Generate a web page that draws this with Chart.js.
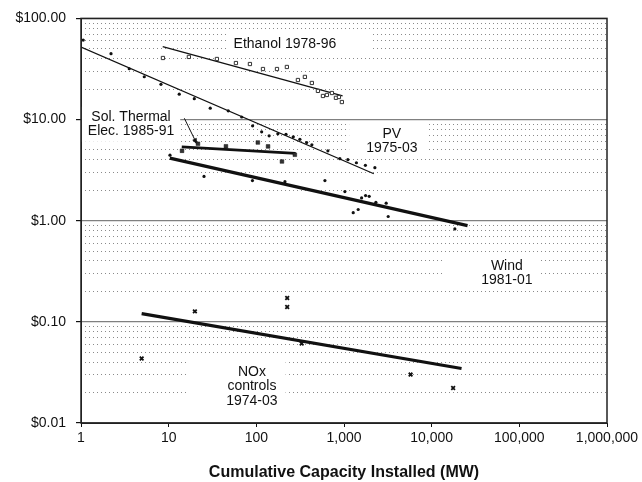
<!DOCTYPE html>
<html><head><meta charset="utf-8">
<script src="https://cdn.jsdelivr.net/npm/chart.js@4.4.0/dist/chart.umd.min.js"></script>
<style>html,body{margin:0;padding:0;background:#fff;}#wrap{width:642px;height:482px;}</style>
</head><body><div id="wrap"><canvas id="c" width="642" height="482"></canvas></div>
<script>
// ---- tick labels ----
const yTickValues = [0.01, 0.1, 1, 10, 100];
const yTickLabels = ['$0.01', '$0.10', '$1.00', '$10.00', '$100.00'];
const yMinorMultipliers = [2, 3, 4, 5, 6, 7, 8, 9];
const xTickValues = [1, 10, 100, 1000, 10000, 100000, 1000000];
const xTickLabels = ['1', '10', '100', '1,000', '10,000', '100,000', '1,000,000'];
const xTitle = 'Cumulative Capacity Installed (MW)';

// ---- series: Ethanol 1978-96 ----
const ethanolX = [8.6, 17.0, 35.5, 58.5, 84.5, 119, 172, 223, 298, 358, 430, 504, 575, 638, 728, 809, 875, 946];
const ethanolY = [40.6, 41.6, 39.7, 36.2, 35.4, 31.6, 31.6, 33.1, 24.6, 26.4, 23.0, 19.2, 17.1, 17.5, 18.3, 16.4, 16.7, 14.9];
const ethanolTrendX = [8.55, 964];
const ethanolTrendY = [52.5, 17.1];

// ---- series: PV 1975-03 ----
const pvX = [1.06, 2.2, 3.55, 5.27, 8.17, 13.2, 19.6, 29.8, 47.8, 68, 90.7, 115, 140, 176, 218, 264, 314, 375, 430, 655, 898, 1107, 1385, 1754, 2250];
const pvY = [61.1, 44.8, 31.8, 26.5, 22.3, 17.8, 16.1, 12.95, 12.2, 10.6, 8.67, 7.56, 6.91, 7.23, 7.15, 6.75, 6.38, 5.93, 5.63, 4.91, 4.10, 4.01, 3.74, 3.53, 3.34];
const pvTrendX = [1, 2190];
const pvTrendY = [52, 2.91];

// ---- series: Solar thermal electricity 1985-91 ----
const solarX = [14.2, 21.6, 45, 104, 136, 196, 275];
const solarY = [4.91, 5.76, 5.44, 5.93, 5.42, 3.85, 4.49];
const solarTrendX = [14.1, 281];
const solarTrendY = [5.38, 4.62];

// ---- series: Wind 1981-01 ----
const windX = [10.35, 25.3, 90.3, 212, 606, 1024, 1274, 1452, 1588, 1763, 1938, 2311, 3028, 3192, 18390];
const windY = [4.44, 2.74, 2.49, 2.43, 2.49, 1.94, 1.20, 1.29, 1.68, 1.77, 1.74, 1.52, 1.49, 1.10, 0.83];
const windTrendX = [10.3, 25650];
const windTrendY = [4.16, 0.895];

// ---- series: NOx controls 1974-03 ----
const noxX = [4.92, 19.9, 225, 225, 329, 5746, 17580];
const noxY = [0.0434, 0.127, 0.172, 0.140, 0.061, 0.0301, 0.0222];
const noxTrendX = [4.92, 21930];
const noxTrendY = [0.1205, 0.0346];

// ---- annotation texts (anchored in data units) ----
const annotationTexts = [
  ['Ethanol 1978-96'],
  ['PV', '1975-03'],
  ['Wind', '1981-01'],
  ['NOx', 'controls', '1974-03'],
  ['Sol. Thermal', 'Elec. 1985-91']
];
const annotationX = [212, 3516, 72000, 89, 3.72];
const annotationY = [55.8, 6.1, 0.304, 0.0231, 8.97];
const annotationPad = [[6, 34], [17, 10], [37, 8], [38, 8], [6, 6]];
const arrowX = [15.1, 21.2];
const arrowY = [10.3, 5.63];

const pts = (xs, ys) => xs.map((x, i) => ({x: x, y: ys[i]}));
const INK = '#111';
const FONT = '"Liberation Sans", Arial, Helvetica, sans-serif';

const labelPlugin = {
  id: 'labels',
  beforeDatasetsDraw(chart) {
    const ctx = chart.ctx, xs = chart.scales.x, ys = chart.scales.y;
    ctx.save();
    ctx.font = '14px ' + FONT;
    const lh = 14.5;
    annotationTexts.forEach((lines, k) => {
      const cx = xs.getPixelForValue(annotationX[k]);
      const cy = ys.getPixelForValue(annotationY[k]);
      let w = 0;
      lines.forEach(l => { w = Math.max(w, ctx.measureText(l).width); });
      const h = lines.length * lh;
      const padX = annotationPad[k][0], padR = annotationPad[k][1];
      ctx.fillStyle = '#fff';
      ctx.fillRect(cx - w / 2 - padX, cy - h / 2 - 3, w + padX + padR, h + 6);
      ctx.fillStyle = INK;
      ctx.textAlign = 'center';
      ctx.textBaseline = 'middle';
      lines.forEach((l, i) => ctx.fillText(l, cx, cy - h / 2 + lh * (i + 0.5)));
    });
    // arrow
    const x1 = xs.getPixelForValue(arrowX[0]), y1 = ys.getPixelForValue(arrowY[0]);
    const x2 = xs.getPixelForValue(arrowX[1]), y2 = ys.getPixelForValue(arrowY[1]);
    ctx.strokeStyle = INK; ctx.lineWidth = 1;
    ctx.beginPath(); ctx.moveTo(x1, y1); ctx.lineTo(x2, y2); ctx.stroke();
    const a = Math.atan2(y2 - y1, x2 - x1);
    ctx.fillStyle = INK;
    ctx.beginPath();
    ctx.moveTo(x2, y2);
    ctx.lineTo(x2 - 7 * Math.cos(a - 0.35), y2 - 7 * Math.sin(a - 0.35));
    ctx.lineTo(x2 - 7 * Math.cos(a + 0.35), y2 - 7 * Math.sin(a + 0.35));
    ctx.closePath(); ctx.fill();
    ctx.restore();
  },
  afterDraw(chart) {
    const ctx = chart.ctx, a = chart.chartArea;
    ctx.save();
    ctx.strokeStyle = '#222'; ctx.lineWidth = 1.5;
    ctx.strokeRect(a.left, a.top, a.right - a.left, a.bottom - a.top);
    ctx.restore();
  }
};

const trend = (xs, ys, w) => ({
  data: pts(xs, ys), showLine: true, pointRadius: 0, borderColor: INK,
  borderWidth: w, backgroundColor: INK, fill: false, order: 2
});

new Chart(document.getElementById('c'), {
  type: 'scatter',
  data: {
    datasets: [
      trend(ethanolTrendX, ethanolTrendY, 1.3),
      trend(pvTrendX, pvTrendY, 1.3),
      trend(solarTrendX, solarTrendY, 2.8),
      trend(windTrendX, windTrendY, 3.2),
      trend(noxTrendX, noxTrendY, 3.2),
      {data: pts(ethanolX, ethanolY), pointStyle: 'rect', pointRadius: 2.3, borderWidth: 1, borderColor: '#333', backgroundColor: '#fff', order: 1},
      {data: pts(pvX, pvY), pointStyle: 'circle', pointRadius: 1.6, borderWidth: 0, backgroundColor: INK, order: 1},
      {data: pts(solarX, solarY), pointStyle: 'rect', pointRadius: 2.6, borderWidth: 0.5, borderColor: INK, backgroundColor: '#333', order: 1},
      {data: pts(windX, windY), pointStyle: 'circle', pointRadius: 1.6, borderWidth: 0, backgroundColor: INK, order: 1},
      {data: pts(noxX, noxY), pointStyle: 'crossRot', pointRadius: 2.6, borderWidth: 1.8, borderColor: INK, backgroundColor: INK, order: 1}
    ]
  },
  options: {
    responsive: false,
    animation: false,
    devicePixelRatio: 1,
    layout: {padding: {left: 0, right: 35, top: 17, bottom: 0}},
    plugins: {legend: {display: false}, tooltip: {enabled: false}},
    elements: {line: {tension: 0}},
    scales: {
      x: {
        type: 'logarithmic', position: 'bottom', min: 1, max: 1000000,
        afterBuildTicks: s => { s.ticks = xTickValues.map(v => ({value: v})); },
        afterFit: s => { s.height = 59; },
        ticks: {
          autoSkip: false, maxRotation: 0, padding: 3, color: INK,
          font: {family: FONT, size: 14},
          callback: v => xTickLabels[xTickValues.indexOf(v)]
        },
        grid: {drawOnChartArea: false, drawTicks: true, tickLength: 4, color: INK, tickColor: INK},
        border: {display: true, color: '#222', width: 1},
        title: {display: true, text: xTitle, color: INK, font: {family: FONT, size: 16, weight: 'bold'}, padding: {top: 0, bottom: 0}}
      },
      y: {
        type: 'logarithmic', position: 'left', min: 0.01, max: 100,
        afterBuildTicks: s => { s.ticks = yTickValues.map(v => ({value: v})); },
        afterFit: s => { s.width = 81; },
        ticks: {
          padding: 10, color: INK, font: {family: FONT, size: 14},
          callback: v => yTickLabels[yTickValues.indexOf(v)]
        },
        grid: {color: '#808080', lineWidth: 1.2, drawTicks: true, tickLength: 5, tickColor: INK},
        border: {display: true, color: '#222', width: 1}
      },
      yMinor: {
        type: 'logarithmic', position: 'right', min: 0.01, max: 100,
        afterBuildTicks: s => {
          const t = [];
          yTickValues.slice(0, -1).forEach(d => yMinorMultipliers.forEach(m => t.push({value: d * m})));
          s.ticks = t;
        },
        afterFit: s => { s.width = 0; },
        ticks: {display: false},
        grid: {color: '#8a8a8a', lineWidth: 1, drawTicks: false},
        border: {display: false, dash: [1, 3]}
      }
    }
  },
  plugins: [labelPlugin]
});
</script>
</body></html>
